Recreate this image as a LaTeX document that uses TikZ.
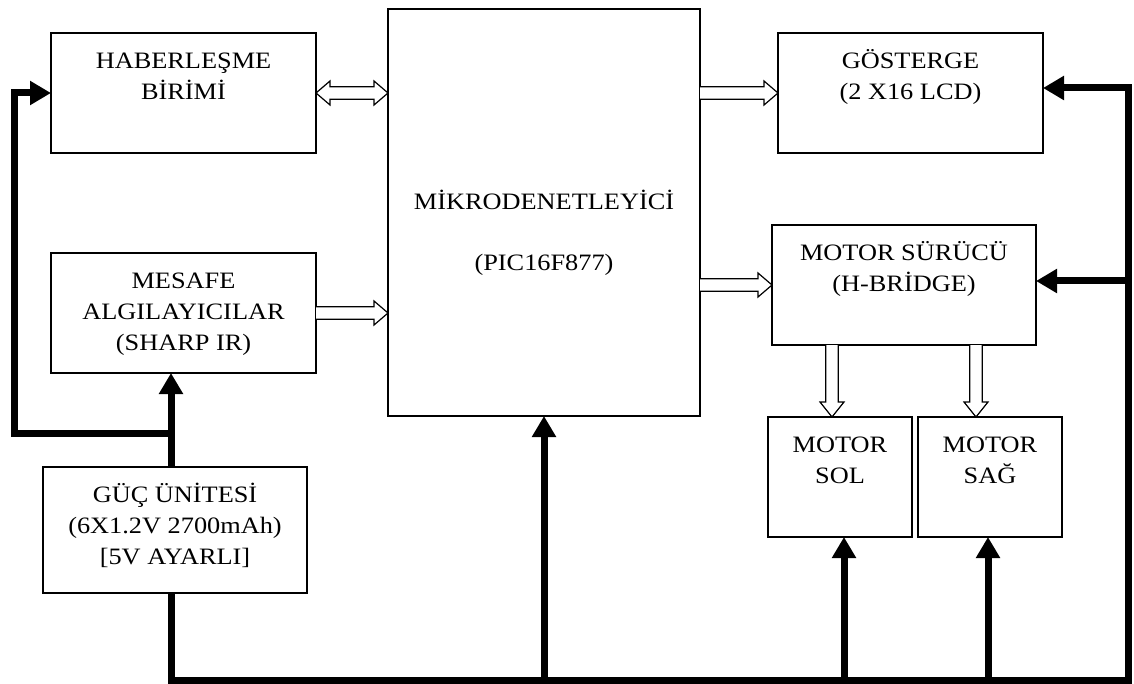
\documentclass[tikz,border=0pt]{standalone}
\usepackage{fontspec}
\setmainfont{Liberation Serif}[FakeStretch=1.12]
\usetikzlibrary{calc,arrows.meta}
\tikzset{
  box/.style={draw, line width=1.3pt, inner sep=0pt, outer sep=0pt, rectangle},
  lbl/.style={anchor=north, inner sep=0pt, align=center, font=\fontsize{23.5}{31}\selectfont},
  hollow/.style={draw, line width=1.2pt, fill=white, line join=miter},
  power/.style={line width=7pt, line join=miter, -{Triangle[length=21pt,width=23pt]}},
  bus/.style={line width=7pt, line join=miter}
}
\newcommand\hollowR[2]{\draw[hollow] ($(#1)+(0,-6.3)$) -- ($(#2)+(-14,-6.3)$) -- ($(#2)+(-14,-12)$) -- (#2) -- ($(#2)+(-14,12)$) -- ($(#2)+(-14,6.3)$) -- ($(#1)+(0,6.3)$);}
\newcommand\hollowLR[2]{\draw[hollow] (#1) -- ($(#1)+(14,-12)$) -- ($(#1)+(14,-6.3)$) -- ($(#2)+(-14,-6.3)$) -- ($(#2)+(-14,-12)$) -- (#2) -- ($(#2)+(-14,12)$) -- ($(#2)+(-14,6.3)$) -- ($(#1)+(14,6.3)$) -- ($(#1)+(14,12)$) -- cycle;}
\newcommand\hollowD[2]{\draw[hollow] ($(#1)+(-6.3,0)$) -- ($(#2)+(-6.3,-15)$) -- ($(#2)+(-12,-15)$) -- (#2) -- ($(#2)+(12,-15)$) -- ($(#2)+(6.3,-15)$) -- ($(#1)+(6.3,0)$);}
\begin{document}
\begin{tikzpicture}[x=1pt,y=-1pt]
\useasboundingbox (0,0) rectangle (1134,684);
% boxes
\node[box, minimum width=265pt, minimum height=120pt] (hab) at (183.5,93) {};
\node[box, minimum width=312pt, minimum height=407pt] (mcu) at (544,212.5) {};
\node[box, minimum width=265pt, minimum height=120pt] (gos) at (910.5,93) {};
\node[box, minimum width=264pt, minimum height=120pt] (drv) at (904,285) {};
\node[box, minimum width=144pt, minimum height=120pt] (sol) at (840,477) {};
\node[box, minimum width=144pt, minimum height=120pt] (sag) at (990,477) {};
\node[box, minimum width=265pt, minimum height=120pt] (mes) at (183.5,313) {};
\node[box, minimum width=264pt, minimum height=126pt] (guc) at (175,530) {};
% texts
\node[lbl] (habt) at ($(hab.north)+(0,13.3)$) {\strut HABERLEŞME\\BİRİMİ};
\node[lbl] (mcut) at ($(mcu.north)+(0,178.3)$) {\strut MİKRODENETLEYİCİ\\[30pt](PIC16F877)};
\node[lbl] (gost) at ($(gos.north)+(0,13.3)$) {\strut GÖSTERGE\\(2 X16 LCD)};
\node[lbl] (drvt) at ($(drv.north)+(0,13.3)$) {\strut MOTOR SÜRÜCÜ\\(H-BRİDGE)};
\node[lbl] (solt) at ($(sol.north)+(0,13.3)$) {\strut MOTOR\\SOL};
\node[lbl] (sagt) at ($(sag.north)+(0,13.3)$) {\strut MOTOR\\SAĞ};
\node[lbl] (mest) at ($(mes.north)+(0,13.3)$) {\strut MESAFE\\ALGILAYICILAR\\(SHARP IR)};
\node[lbl] (guct) at ($(guc.north)+(0,13.3)$) {\strut GÜÇ ÜNİTESİ\\(6X1.2V 2700mAh)\\{[}5V AYARLI{]}};
% hollow data arrows
\coordinate (a1) at (mcu.west|-hab.east);
\hollowLR{hab.east}{a1}
\coordinate (a2) at (mcu.east|-gos.west);
\hollowR{a2}{gos.west}
\coordinate (a3) at (mcu.east|-drv.west);
\hollowR{a3}{drv.west}
\coordinate (a4) at (mcu.west|-mes.east);
\hollowR{mes.east}{a4}
\coordinate (d1) at ($(drv.south west)+(60,0)$);
\coordinate (d1e) at (d1|-sol.north);
\hollowD{d1}{d1e}
\coordinate (d2) at ($(drv.south west)+(204,0)$);
\coordinate (d2e) at (d2|-sag.north);
\hollowD{d2}{d2e}
% power lines
\coordinate (pv) at (171,433);
\coordinate (lf) at (14,433);
\coordinate (br) at (1128,680);
\coordinate (gin) at ($(gos.east)+(0,-5)$);
\coordinate (j2) at (1128,281);
\coordinate (s1) at ($(sol.south)+(4,0)$);
\coordinate (s2) at ($(sag.south)+(-2,0)$);
\draw[power] (pv|-guc.north) -- (pv|-mes.south);
\draw[power] (pv) -- (lf) |- (hab.west);
\draw[power] (pv|-guc.south) |- (br) |- (gin);
\draw[power] (j2) -- (j2-|drv.east);
\draw[power] (mcu.south|-br) -- (mcu.south);
\draw[power] (s1|-br) -- (s1);
\draw[power] (s2|-br) -- (s2);
\end{tikzpicture}
\end{document}
